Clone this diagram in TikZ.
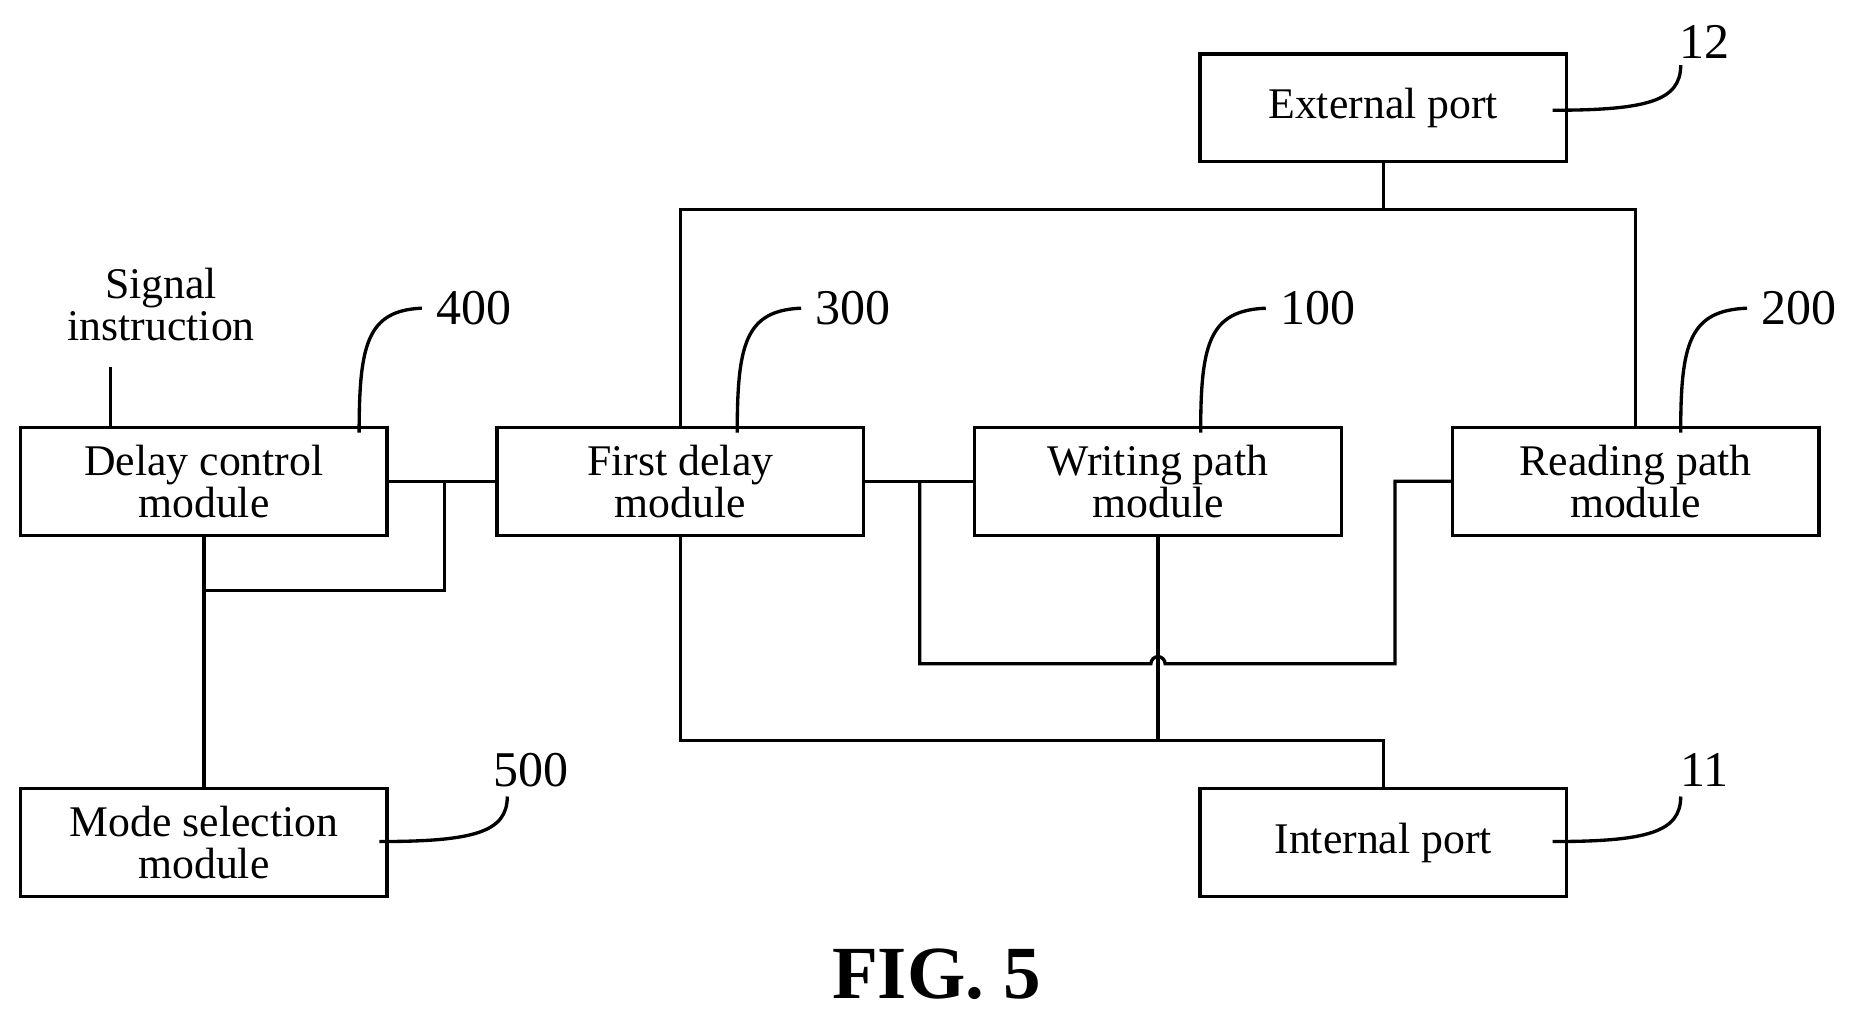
\documentclass[tikz,border=0pt]{standalone}
\usepackage{fontspec}
\setmainfont{Liberation Serif}
\usetikzlibrary{positioning, calc}
\begin{document}
\begin{tikzpicture}[x=0.01cm, y=-0.01cm, font=\fontsize{10.5}{10}\selectfont,
block/.style={rectangle, draw=black, thick, minimum width=3.09cm, minimum height=0.91cm, align=center, inner sep=1pt},
wire/.style={thick},
lead/.style={thick},
num/.style={font=\fontsize{12}{12}\selectfont}
]
\useasboundingbox (0,0) rectangle (1560,857);

% Blocks
\node[block] (ext) at (1167,91) {External port};
\node[block] (dctrl) at (172,406) {Delay control\\module};
\node[block] (fdelay) at (574,406) {First delay\\module};
\node[block] (write) at (977,406) {Writing path\\module};
\node[block] (read) at (1380,406) {Reading path\\module};
\node[block] (mode) at (172,711) {Mode selection\\module};
\node[block] (int) at (1167,711) {Internal port};

% Signal input
\node[align=center] (sig) at (136,257) {Signal\\instruction};
\coordinate (sigin) at (93,310);
\draw[wire] (sigin) -- (sigin |- dctrl.north);

% External port bus
\coordinate (bus) at (1167,177);
\draw[wire] (ext.south) -- (bus);
\draw[wire] (fdelay.north) |- (bus) -| (read.north);

% Delay control links
\coordinate (b1) at (375,498);
\draw[wire] (dctrl.east) -- (fdelay.west);
\draw[wire] (b1 |- dctrl.east) -- (b1) -| (dctrl.south);
\draw[wire] (dctrl.south) -- (mode.north);

% First delay to writing / reading
\coordinate (b2) at (776,560);
\coordinate (b3) at (1177,560);
\draw[wire] (fdelay.east) -- (write.west);
\draw[wire] (b2 |- fdelay.east) -- (b2) -- (971,560) arc (180:360:6) -- (b3) |- (read.west);

% Internal port bus
\coordinate (b4) at (977,625);
\draw[wire] (write.south) -- (b4);
\draw[wire] (fdelay.south) |- (b4) -| (int.north);

% Reference labels
\node[num] (n400) at (400,260) {400};
\node[num] (n300) at (720,260) {300};
\node[num] (n100) at (1112,260) {100};
\node[num] (n200) at (1518,260) {200};
\node[num] (n12) at (1438,35) {12};
\node[num] (n11) at (1438,650) {11};
\node[num] (n500) at (448,650) {500};
\draw[lead] (303,365) .. controls (303,290) and (310,262) .. (n400.west);
\draw[lead] (622,365) .. controls (622,290) and (629,262) .. (n300.west);
\draw[lead] (1013,365) .. controls (1013,290) and (1020,262) .. (n100.west);
\draw[lead] (1418,365) .. controls (1418,290) and (1425,262) .. (n200.west);
\draw[lead] (1310,93) .. controls (1390,93) and (1418,85) .. (1418,55);
\draw[lead] (1310,710) .. controls (1390,710) and (1418,702) .. (1418,672);
\draw[lead] (320,710) .. controls (400,710) and (428,702) .. (428,672);

% Caption
\node[font=\fontsize{18}{18}\selectfont\bfseries] (cap) at (790,822) {FIG. 5};
\end{tikzpicture}
\end{document}
